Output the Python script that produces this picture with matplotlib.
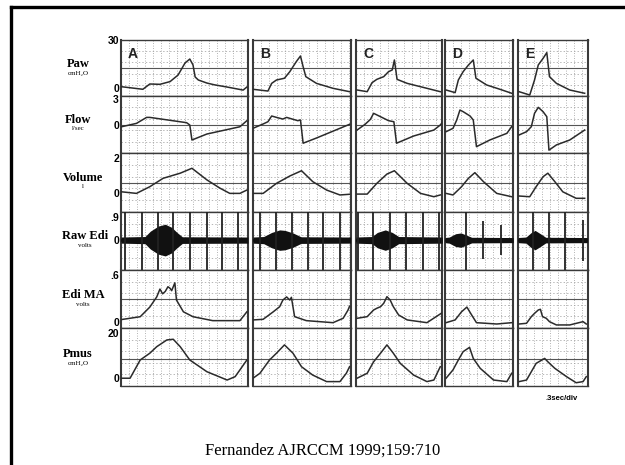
import numpy as np
import matplotlib.pyplot as plt
from matplotlib.lines import Line2D

# ---- data (time in s from panel start) ----
panels = ['A', 'B', 'C', 'D', 'E']

paw_t = {'A': [0.01, 0.41, 0.54, 0.73, 0.92, 1.07, 1.20, 1.29, 1.35, 1.39, 1.45, 1.61, 1.75, 1.99, 2.29, 2.36],
         'B': [0.0, 0.28, 0.35, 0.44, 0.59, 0.69, 0.81, 0.89, 0.94, 0.99, 1.19, 1.50, 1.81],
         'C': [0.02, 0.21, 0.30, 0.39, 0.52, 0.61, 0.68, 0.72, 0.77, 0.96, 1.33, 1.58],
         'D': [0.02, 0.19, 0.25, 0.34, 0.44, 0.53, 0.58, 0.78, 1.03, 1.25],
         'E': [0.02, 0.22, 0.31, 0.38, 0.47, 0.54, 0.59, 0.72, 0.97, 1.25]}
paw_v = {'A': [0.8, -0.8, 2.5, 2.3, 4.0, 8.1, 15.6, 18.1, 14.4, 6.9, 5.0, 3.1, 2.0, 0.6, -1.3, 0.6],
         'B': [-0.8, -1.9, 2.9, 5.0, 6.1, 10.2, 16.4, 20.0, 13.3, 7.1, 2.9, -0.2, -2.3],
         'C': [-1.25, -2.3, 3.3, 5.4, 7.1, 10.2, 11.3, 17.5, 5.4, 2.9, -0.2, -2.3],
         'D': [-1.25, -2.9, 5.0, 10.2, 14.4, 17.5, 6.1, 1.9, -0.8, -3.3],
         'E': [-2.3, -4.4, 5.0, 14.4, 18.5, 22.1, 7.1, 2.9, -1.25, -3.3]}

flow_t = {'A': [0.01, 0.29, 0.48, 0.54, 0.98, 1.23, 1.29, 1.33, 1.61, 2.23, 2.36],
          'B': [0.0, 0.19, 0.28, 0.35, 0.44, 0.56, 0.63, 0.84, 0.89, 0.94, 1.19, 1.81],
          'C': [0.02, 0.17, 0.27, 0.33, 0.46, 0.61, 0.71, 0.76, 1.08, 1.46, 1.58, 1.62],
          'D': [0.02, 0.15, 0.22, 0.28, 0.34, 0.47, 0.53, 0.59, 0.84, 1.16, 1.25],
          'E': [0.02, 0.16, 0.25, 0.31, 0.38, 0.47, 0.54, 0.58, 0.72, 0.97, 1.25]}
flow_v = {'A': [-0.2, 0.19, 0.88, 0.88, 0.49, 0.27, 0.0, -1.73, -1.04, -0.2, 0.5],
          'B': [-0.38, 0.12, 0.38, 1.04, 0.88, 0.69, 0.88, 0.5, 0.58, -2.1, -1.5, 0.08],
          'C': [-0.58, 0.08, 0.65, 1.35, 0.96, 0.5, 0.38, -2.1, -1.27, -0.58, 0.0, 0.3],
          'D': [-0.77, -0.38, 0.58, 1.73, 1.54, 1.04, 0.58, -2.5, -1.73, -0.96, -0.19],
          'E': [-1.15, -0.77, -0.19, 1.35, 2.04, 1.54, 0.96, -2.9, -2.3, -1.73, -0.58]}

vol_t = {'A': [0.01, 0.29, 0.54, 0.79, 1.11, 1.33, 1.61, 1.86, 2.04, 2.23, 2.36],
         'B': [0.0, 0.19, 0.44, 0.69, 0.91, 1.12, 1.38, 1.63, 1.81],
         'C': [0.02, 0.21, 0.39, 0.58, 0.72, 0.96, 1.21, 1.46, 1.58],
         'D': [0.02, 0.15, 0.31, 0.44, 0.56, 0.72, 0.97, 1.25],
         'E': [0.02, 0.22, 0.34, 0.47, 0.56, 0.69, 0.84, 1.09, 1.25]}
vol_v = {'A': [0.07, -0.02, 0.36, 0.84, 1.13, 1.41, 0.75, 0.27, -0.02, -0.02, 0.17],
         'B': [-0.02, -0.02, 0.55, 0.97, 1.27, 0.65, 0.17, -0.11, -0.07],
         'C': [-0.06, -0.06, 0.55, 1.08, 1.27, 0.55, -0.02, -0.21, -0.11],
         'D': [-0.02, -0.11, 0.36, 0.84, 1.16, 0.65, -0.02, -0.21],
         'E': [-0.17, -0.21, 0.36, 0.93, 1.13, 0.65, 0.07, -0.3, -0.3]}

# raw EMG: amplitude envelope plus ECG spike times / heights
raw_t = {'A': [0.0, 0.45, 0.55, 0.7, 0.83, 0.95, 1.05, 1.15, 2.38],
         'B': [0.0, 0.2, 0.35, 0.5, 0.6, 0.75, 0.9, 1.83],
         'C': [0.0, 0.3, 0.4, 0.55, 0.68, 0.8, 1.62],
         'D': [0.0, 0.08, 0.2, 0.3, 0.42, 0.5, 1.28],
         'E': [0.0, 0.15, 0.25, 0.32, 0.42, 0.52, 1.30]}
raw_env = {'A': [0.12, 0.14, 0.35, 0.55, 0.62, 0.5, 0.3, 0.13, 0.12],
           'B': [0.12, 0.14, 0.3, 0.4, 0.38, 0.28, 0.13, 0.12],
           'C': [0.12, 0.14, 0.3, 0.4, 0.3, 0.14, 0.12],
           'D': [0.1, 0.12, 0.25, 0.28, 0.18, 0.11, 0.1],
           'E': [0.1, 0.12, 0.3, 0.38, 0.25, 0.11, 0.1]}
spike_t = {'A': [0.075, 0.39, 0.69, 0.98, 1.29, 1.61, 1.89, 2.19],
           'B': [0.13, 0.43, 0.73, 1.03, 1.31, 1.63],
           'C': [0.04, 0.32, 0.64, 0.94, 1.26, 1.56],
           'D': [0.39, 0.71, 1.05],
           'E': [0.28, 0.58, 0.89, 1.21]}
spike_h = {'A': [1.2] * 8, 'B': [1.2] * 6, 'C': [1.2] * 6,
           'D': [1.2, 0.75, 0.6],
           'E': [1.2, 1.2, 1.2, 0.8]}

edi_t = {'A': [0.0, 0.36, 0.54, 0.67, 0.73, 0.78, 0.83, 0.88, 0.92, 0.95, 1.01, 1.04, 1.17, 1.35, 1.72, 2.23, 2.36],
         'B': [0.0, 0.19, 0.38, 0.5, 0.56, 0.63, 0.69, 0.72, 0.78, 1.0, 1.5, 1.69, 1.78, 1.81],
         'C': [0.02, 0.21, 0.33, 0.39, 0.46, 0.52, 0.58, 0.64, 0.70, 0.80, 0.96, 1.33, 1.55, 1.62],
         'D': [0.02, 0.19, 0.31, 0.41, 0.50, 0.59, 0.97, 1.25],
         'E': [0.02, 0.16, 0.25, 0.31, 0.38, 0.42, 0.46, 0.53, 0.59, 0.72, 0.97, 1.22, 1.28]}
edi_v = {'A': [0.03, 0.067, 0.19, 0.32, 0.42, 0.36, 0.39, 0.45, 0.43, 0.40, 0.50, 0.28, 0.13, 0.067, 0.017, 0.017, 0.13],
         'B': [0.026, 0.034, 0.13, 0.195, 0.28, 0.32, 0.28, 0.315, 0.068, 0.017, -0.009, 0.047, 0.15, 0.2],
         'C': [0.047, 0.068, 0.153, 0.175, 0.195, 0.239, 0.323, 0.281, 0.195, 0.089, 0.026, -0.009, 0.089, 0.12],
         'D': [-0.009, 0.026, 0.13, 0.19, 0.089, -0.009, -0.026, -0.009],
         'E': [-0.026, -0.017, 0.068, 0.11, 0.153, 0.162, 0.068, 0.047, 0.004, -0.038, -0.038, 0.004, -0.026]}

pmus_t = {'A': [0.0, 0.17, 0.36, 0.54, 0.67, 0.86, 0.98, 1.11, 1.29, 1.61, 1.99, 2.14, 2.23, 2.36],
          'B': [0.0, 0.13, 0.31, 0.44, 0.59, 0.75, 0.91, 1.12, 1.38, 1.63, 1.75, 1.81],
          'C': [0.02, 0.21, 0.33, 0.46, 0.58, 0.70, 0.83, 1.08, 1.33, 1.46, 1.58],
          'D': [0.02, 0.15, 0.25, 0.34, 0.46, 0.53, 0.66, 0.91, 1.16, 1.25],
          'E': [0.02, 0.16, 0.25, 0.34, 0.50, 0.56, 0.69, 0.91, 1.09, 1.22, 1.28]}
pmus_v = {'A': [-0.1, -0.1, 8.0, 11.0, 13.9, 16.9, 17.2, 13.9, 8.0, 2.8, -0.9, 0.6, 3.6, 8.0],
          'B': [-0.1, 2.1, 8.0, 11.0, 14.7, 11.0, 5.0, 1.3, -1.6, -1.6, 2.1, 5.0],
          'C': [-0.1, 2.1, 7.2, 11.0, 14.7, 11.0, 6.5, 1.3, -1.6, -0.9, 5.0],
          'D': [-0.1, 3.6, 8.0, 11.7, 13.6, 8.7, 4.3, -0.9, -1.6, 2.1],
          'E': [-1.6, -0.9, 2.8, 6.5, 8.7, 7.2, 4.3, 0.6, -2.1, -1.6, 0.6]}

row_names = ['Paw', 'Flow', 'Volume', 'Raw Edi', 'Edi MA', 'Pmus']
row_units = ['cmH\u2082O', 'l/sec', 'l', 'volts', 'volts', 'cmH\u2082O']
row_ylim = [(-5, 30), (-3.23, 3.35), (-1.08, 2.28), (-1.17, 1.1), (-0.077, 0.664), (-3.55, 22.2)]
row_ticks = [[0, 30], [0, 3], [0, 2], [0, 0.9], [0, 0.6], [0, 20]]
row_ticklabels = [['0', '30'], ['0', '3'], ['0', '2'], ['0', '.9'], ['0', '.6'], ['0', '20']]
row_ref = [12.5, 0.0, 0.6, None, 0.29, 8.4]

traces = [(paw_t, paw_v), (flow_t, flow_v), (vol_t, vol_v), None, (edi_t, edi_v), (pmus_t, pmus_v)]

# ---- layout (pixels of the 625x465 picture) ----
W, H = 625, 465
col_left = [121, 253, 356, 445, 518]
col_right = [248, 351, 442, 513, 588]
row_edges = [40, 96, 153, 212, 270, 328, 386]
sec_per_px = 0.3 / 16

fig = plt.figure(figsize=(W / 100, H / 100), dpi=100)
ink = '#2b2b2b'
grid_c = '#9a9a9a'

for c, p in enumerate(panels):
    span = (col_right[c] - col_left[c]) * sec_per_px
    for r in range(6):
        y0, y1 = row_edges[r], row_edges[r + 1]
        ax = fig.add_axes([col_left[c] / W, 1 - y1 / H, (col_right[c] - col_left[c]) / W, (y1 - y0) / H])
        ax.set_xlim(0, span)
        lo, hi = row_ylim[r]
        ax.set_ylim(lo, hi)
        ax.set_xticks([])
        # chart-paper grid
        for gx in np.arange(0.15, span, 0.15):
            ax.axvline(gx, color=grid_c, lw=0.6, ls=(0, (1, 2)), zorder=0)
        for f in [0.2, 0.4, 0.6, 0.8]:
            ax.axhline(lo + f * (hi - lo), color=grid_c, lw=0.5, ls=(0, (2, 3)), zorder=0)
        if row_ref[r] is not None:
            ax.axhline(row_ref[r], color='#555555', lw=0.8, zorder=1)
        if traces[r] is not None:
            tt, vv = traces[r]
            ax.plot(tt[p], vv[p], color=ink, lw=1.1, zorder=3)
        else:
            ax.fill_between(raw_t[p], [-a for a in raw_env[p]], raw_env[p], color='#111111', lw=0, zorder=3)
            ax.axhline(0, color='#111111', lw=1.8, zorder=3)
            ax.vlines(spike_t[p], [-h for h in spike_h[p]], spike_h[p], color='#222222', lw=1.3, zorder=4)
        for s in ax.spines.values():
            s.set_color('#3a3a3a')
            s.set_linewidth(1.0)
        ax.spines['left'].set_linewidth(1.5)
        ax.spines['right'].set_linewidth(1.5)
        if c == 0:
            ax.set_yticks(row_ticks[r])
            ax.set_yticklabels(row_ticklabels[r], fontsize=7.5, fontweight='bold', family='Liberation Sans')
            ax.tick_params(axis='y', length=0, pad=1.5)
        else:
            ax.set_yticks([])
        if r == 0:
            ax.text(7 / (col_right[c] - col_left[c]), 0.87, p, transform=ax.transAxes, fontsize=10,
                    fontweight='bold', family='Liberation Sans', ha='left', va='top', color='#222222')

# row labels
label_xy = [(78, 64), (78, 120), (83, 178), (85, 236), (83, 295), (78, 354)]
for r in range(6):
    lx, ly = label_xy[r]
    fig.text(lx / W, 1 - ly / H, row_names[r], fontsize=9, fontweight='bold',
             family=['Liberation Serif', 'DejaVu Serif'], ha='center', va='center')
    fig.text(lx / W, 1 - (ly + 9) / H, row_units[r], fontsize=5,
             family=['Liberation Serif', 'DejaVu Serif'], ha='center', va='center')

fig.text(562 / W, 1 - 398 / H, '.3sec/div', fontsize=5.5, fontweight='bold',
         family='Liberation Sans', ha='center', va='center')
fig.text(323 / W, 1 - 451 / H, 'Fernandez AJRCCM 1999;159:710', fontsize=12,
         family='Liberation Serif', ha='center', va='center')

# slide frame (left and top edges)
fig.add_artist(Line2D([11 / W, 11 / W], [0, 1 - 7.5 / H], transform=fig.transFigure, color='black', lw=2.4))
fig.add_artist(Line2D([11 / W, 1], [1 - 7.5 / H, 1 - 7.5 / H], transform=fig.transFigure, color='black', lw=2.4))

fig.savefig('out.png', dpi=100)
